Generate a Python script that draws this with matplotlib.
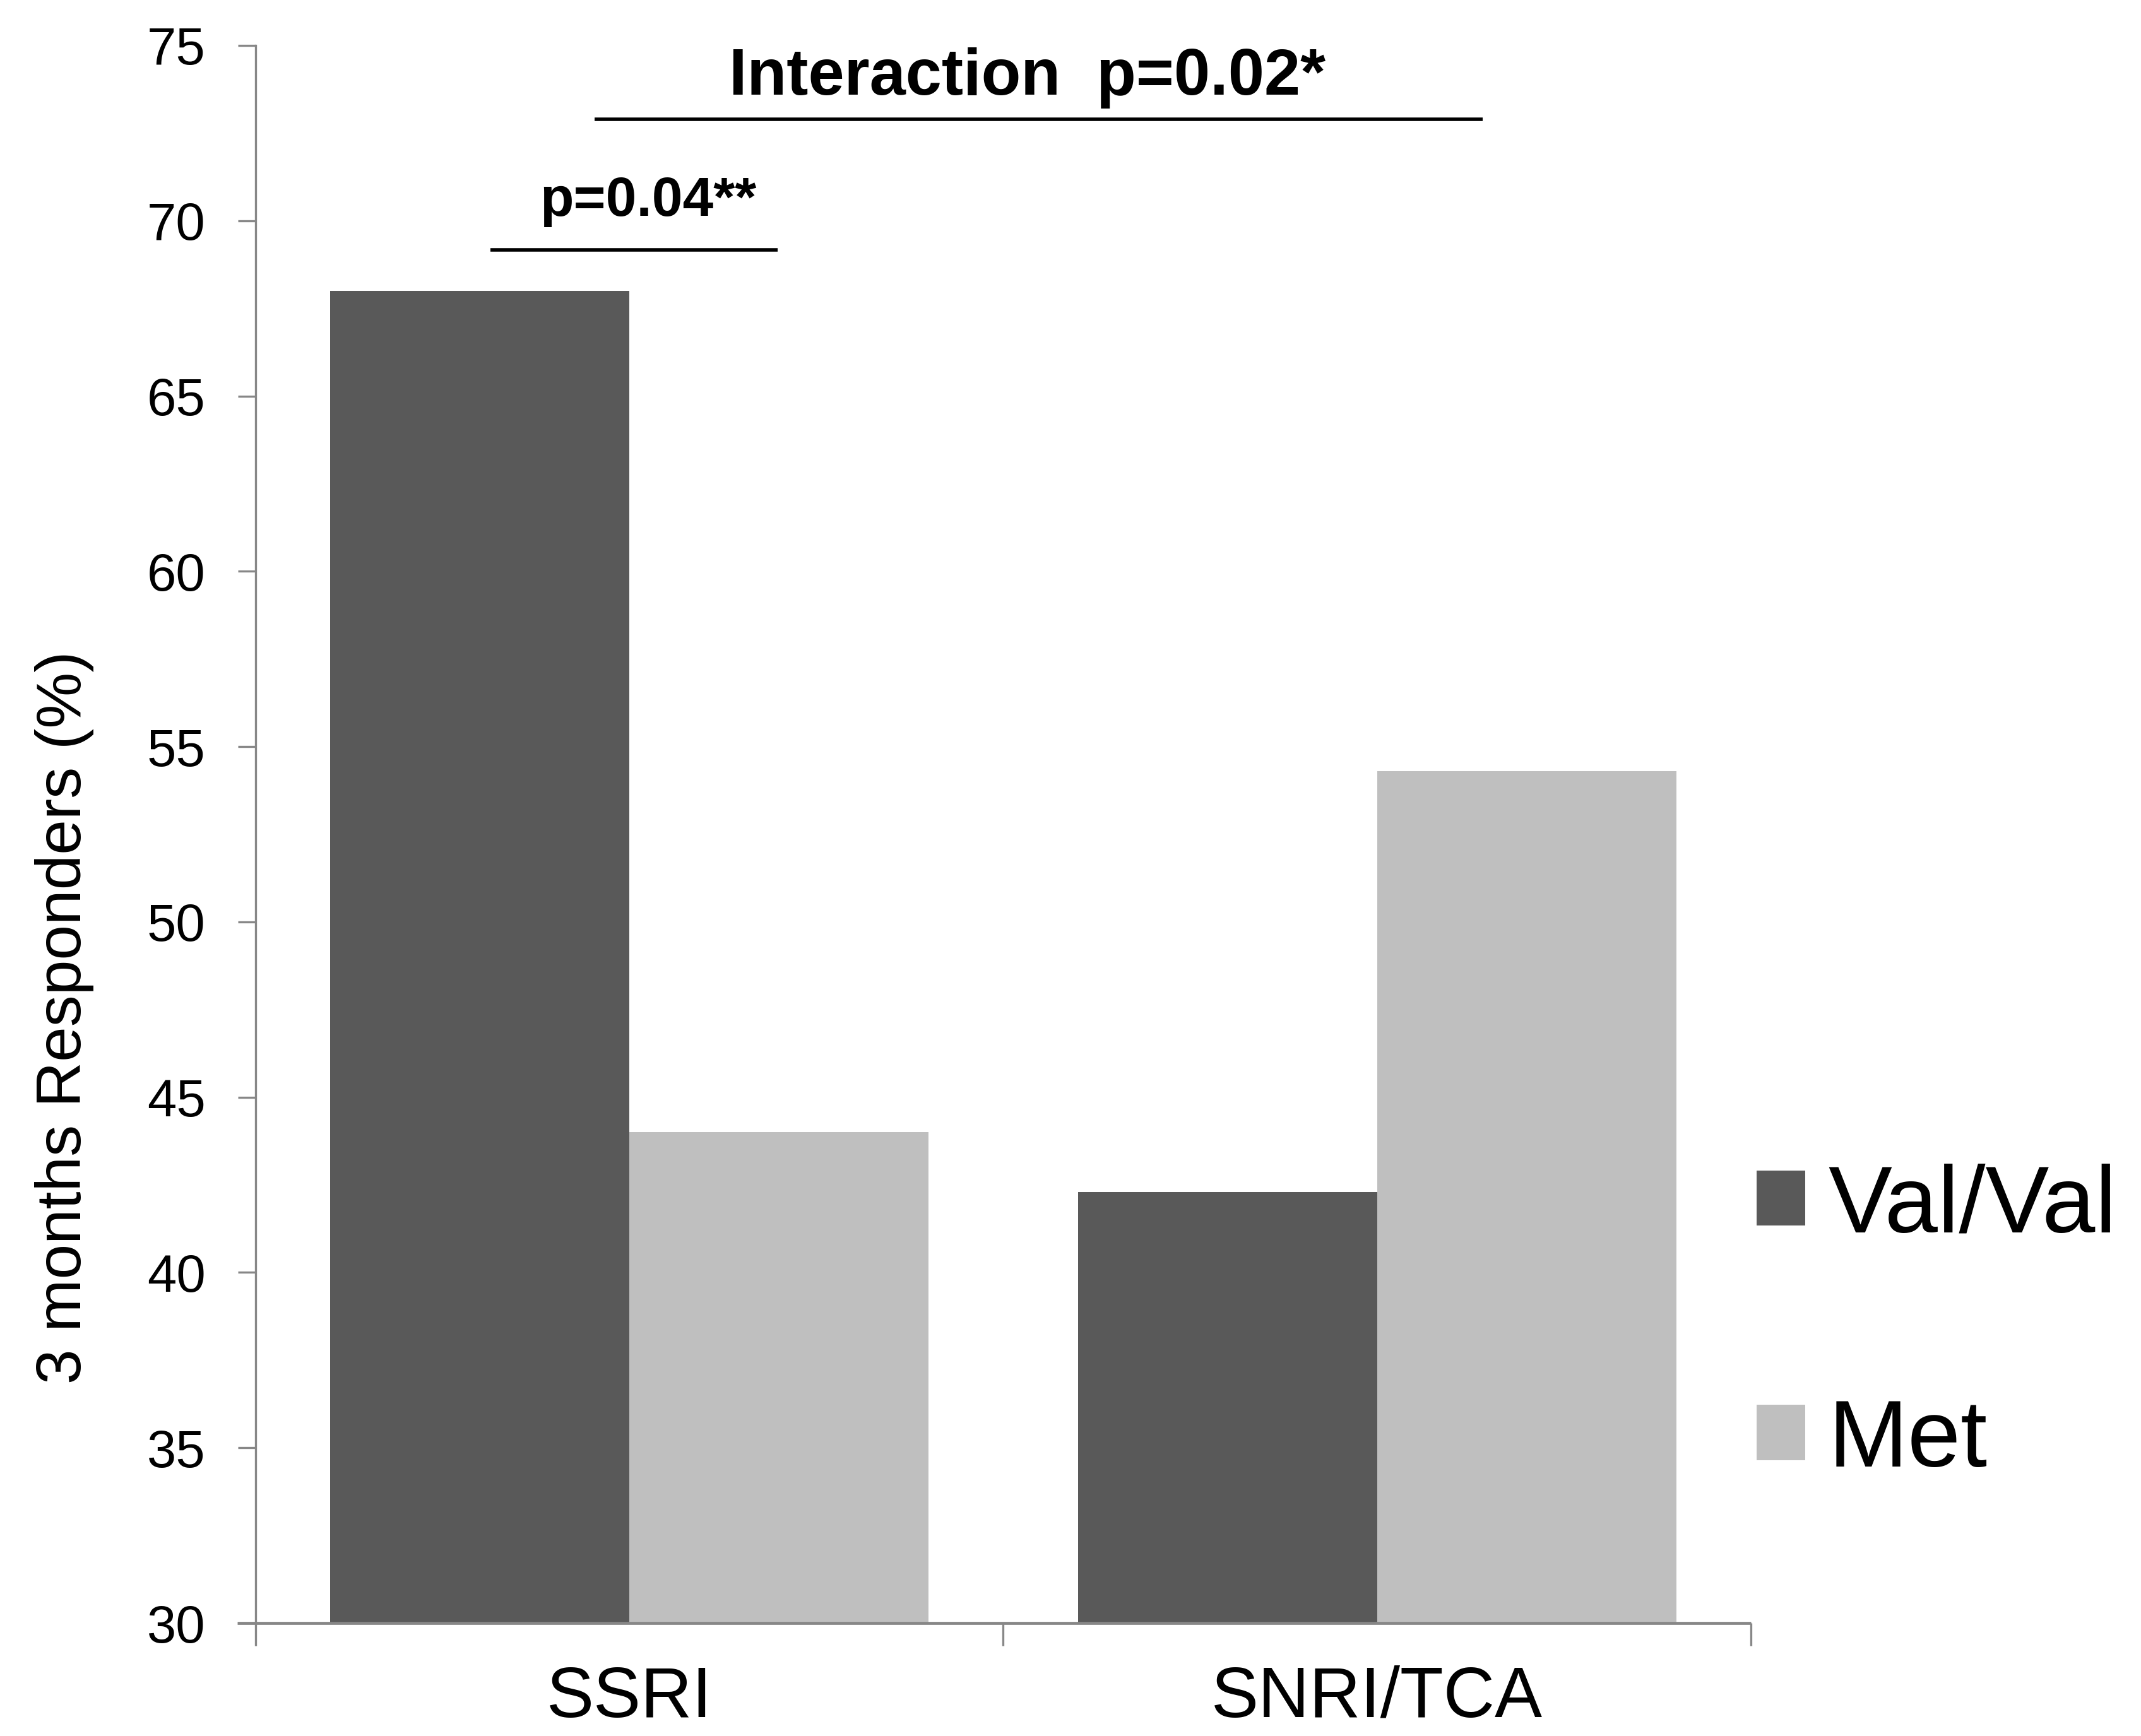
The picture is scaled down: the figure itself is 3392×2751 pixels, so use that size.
import matplotlib
matplotlib.use("Agg")
import matplotlib.pyplot as plt
import numpy as np

plt.rcParams['font.family'] = ['Liberation Sans', 'DejaVu Sans']

categories = ["SSRI", "SNRI/TCA"]
series_names = ["Val/Val", "Met"]
val_val = [68.0, 42.3]
met = [44.0, 54.3]
colors = ["#595959", "#BFBFBF"]
y_ticks = [30, 35, 40, 45, 50, 55, 60, 65, 70, 75]
ylabel = "3 months Responders (%)"
interaction_text = "Interaction  p=0.02*"
pair_text = "p=0.04**"

W, H = 3392, 2751
fig = plt.figure(figsize=(W / 100, H / 100), dpi=100)
ax = fig.add_axes([405 / W, 1 - 2572 / H, (2774 - 405) / W, (2572 - 72) / H])

x = np.arange(len(categories))
bw = 0.4
ax.bar(x - bw / 2, val_val, width=bw, color=colors[0], label=series_names[0], zorder=2)
ax.bar(x + bw / 2, met, width=bw, color=colors[1], label=series_names[1], zorder=2)

ax.set_xlim(-0.5, 1.5)
ax.set_ylim(30, 75)

grey = "#878787"
for s in ["top", "right"]:
    ax.spines[s].set_visible(False)
ax.spines["left"].set_color(grey)
ax.spines["left"].set_linewidth(2.4)
ax.spines["bottom"].set_color(grey)
ax.spines["bottom"].set_linewidth(3.4)
ax.spines["bottom"].set_bounds(-0.5245, 1.5)
ax.spines["bottom"].set_capstyle("butt")

ax.set_yticks(y_ticks)
ax.set_yticklabels([str(t) for t in y_ticks])
ax.tick_params(axis="y", direction="out", length=20, width=2.4, color=grey,
               labelsize=60, pad=37)

ax.set_xticks([-0.5, 0.5, 1.5])
ax.set_xticklabels(["", "", ""])
ax.set_xticks(x, minor=True)
ax.set_xticklabels(categories, minor=True)
ax.tick_params(axis="x", which="major", direction="out", length=26, width=2.4, color=grey)
ax.tick_params(axis="x", which="minor", length=0, labelsize=81, pad=48)

ax.set_ylabel(ylabel, fontsize=72, va="center", ha="center")
ax.yaxis.set_label_coords(-0.128, 0.384)

# significance annotations
ax.plot([-0.047, 1.141], [72.9, 72.9], color="black", lw=4, solid_capstyle="butt", clip_on=False)
ax.text(0.532, 73.6, interaction_text, ha="center", va="baseline", fontsize=74,
        fontweight="bold", clip_on=False)
ax.plot([-0.186, 0.198], [69.17, 69.17], color="black", lw=4, solid_capstyle="butt", clip_on=False)
ax.text(0.025, 70.14, pair_text, ha="center", va="baseline", fontsize=63,
        fontweight="bold", clip_on=False)

leg = ax.legend(loc="center left", bbox_to_anchor=(2783 / W, 1 - 2099 / H),
                bbox_transform=fig.transFigure, frameon=False, fontsize=109,
                handlelength=0.51, handleheight=0.51, handletextpad=0.24,
                labelspacing=1.53, borderpad=0, borderaxespad=0)

fig.savefig("out.png", dpi=100, facecolor="white")
